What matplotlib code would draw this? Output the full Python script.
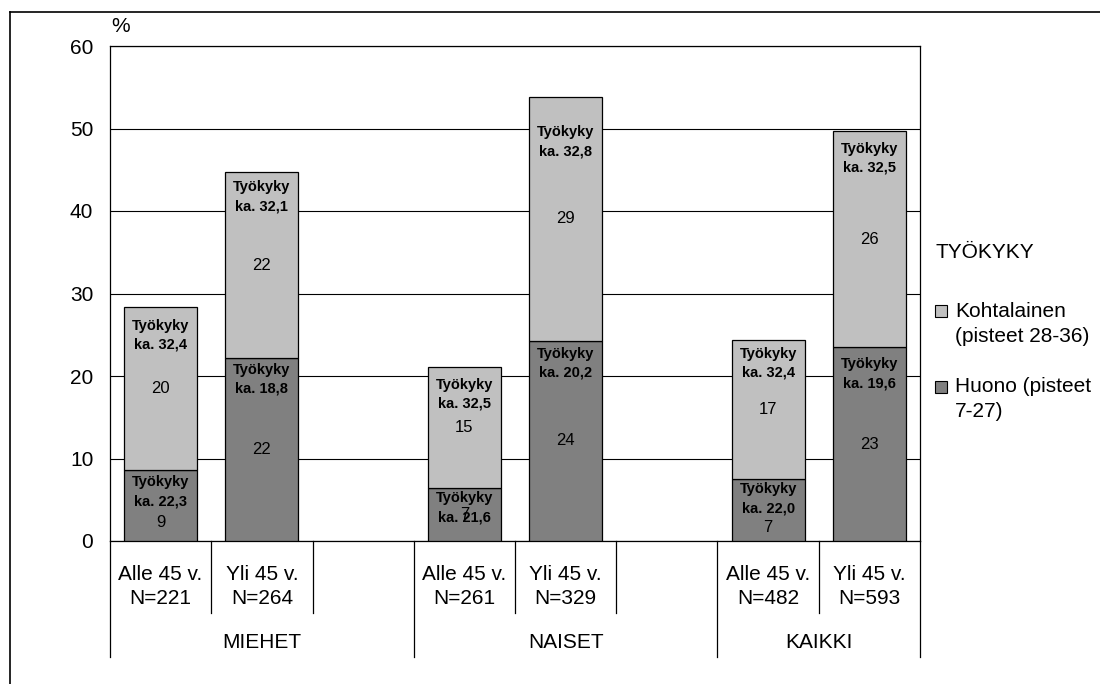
import matplotlib
matplotlib.use("Agg")
import matplotlib.pyplot as plt
from matplotlib.lines import Line2D
from matplotlib.patches import Rectangle
import matplotlib.transforms as mtransforms

plt.rcParams['font.family'] = ['Liberation Sans', 'DejaVu Sans']

# data
slots = [0, 1, 3, 4, 6, 7]
cat_labels = ['Alle 45 v.\nN=221', 'Yli 45 v.\nN=264',
              'Alle 45 v.\nN=261', 'Yli 45 v.\nN=329',
              'Alle 45 v.\nN=482', 'Yli 45 v.\nN=593']
groups = ['MIEHET', 'NAISET', 'KAIKKI']
huono = [8.6, 22.2, 6.4, 24.3, 7.5, 23.5]
kohtalainen = [19.8, 22.5, 14.7, 29.5, 16.9, 26.2]
huono_lbl = ['9', '22', '7', '24', '7', '23']
kohtalainen_lbl = ['20', '22', '15', '29', '17', '26']
huono_ka = ['22,3', '18,8', '21,6', '20,2', '22,0', '19,6']
kohtalainen_ka = ['32,4', '32,1', '32,5', '32,8', '32,4', '32,5']

W, H = 1100, 684
fig = plt.figure(figsize=(11, 6.84), dpi=100)
x0, x1, ytop, ybot = 110, 920, 46, 541
ax = fig.add_axes([x0 / W, 1 - ybot / H, (x1 - x0) / W, (ybot - ytop) / H])

light = '#c0c0c0'
dark = '#808080'
bw = 0.72
ax.bar(slots, huono, bw, color=dark, edgecolor='black', linewidth=0.9, zorder=3)
ax.bar(slots, kohtalainen, bw, bottom=huono, color=light, edgecolor='black',
       linewidth=0.9, zorder=3)

ax.set_xlim(-0.5, 7.5)
ax.set_ylim(0, 60)
ax.set_yticks(range(0, 61, 10))
ax.tick_params(axis='y', length=0, pad=12, labelsize=15)
ax.set_xticks([])
ax.yaxis.grid(True, color='black', linewidth=0.8)
ax.set_axisbelow(True)
for s in ax.spines.values():
    s.set_color('black')
    s.set_linewidth(0.9)

px = 72 / 100  # pixels -> points

# bold "Työkyky" labels, offset from top of segment (pixels)
off_light = [12, 8, 11, 28, 7, 11]
off_dark = [5, 5, 3, 6, 3, 10]
for i, x in enumerate(slots):
    top_d = huono[i]
    top_l = huono[i] + kohtalainen[i]
    ax.annotate('Työkyky\nka. ' + kohtalainen_ka[i], (x, top_l),
                xytext=(0, -off_light[i] * px), textcoords='offset points',
                ha='center', va='top', fontsize=10.5, fontweight='bold',
                linespacing=1.45, zorder=5)
    ax.annotate('Työkyky\nka. ' + huono_ka[i], (x, top_d),
                xytext=(0, -off_dark[i] * px), textcoords='offset points',
                ha='center', va='top', fontsize=10.5, fontweight='bold',
                linespacing=1.45, zorder=5)

# value numbers at segment centres, two small ones pushed down
nudge_dark = {0: 17, 4: 17}
for i, x in enumerate(slots):
    ax.annotate(huono_lbl[i], (x, huono[i] / 2),
                xytext=(0, -nudge_dark.get(i, 0) * px), textcoords='offset points',
                ha='center', va='center', fontsize=12, zorder=5)
    ax.annotate(kohtalainen_lbl[i], (x, huono[i] + kohtalainen[i] / 2),
                ha='center', va='center', fontsize=12, zorder=5)

# category axis below the plot
trans = mtransforms.blended_transform_factory(ax.transData, ax.transAxes)
hpx = ybot - ytop


def ya(ypix):
    return (ybot - ypix) / hpx


for i, x in enumerate(slots):
    ax.text(x, ya(586.5), cat_labels[i], transform=trans, ha='center',
            va='center', fontsize=15, linespacing=1.4, clip_on=False)

for xs in [0.5, 1.5, 3.5, 4.5, 6.5]:
    ax.add_line(Line2D([xs, xs], [0, ya(613)], transform=trans, color='black',
                       linewidth=0.9, clip_on=False))
for xs in [-0.5, 2.5, 5.5, 7.5]:
    ax.add_line(Line2D([xs, xs], [0, ya(657)], transform=trans, color='black',
                       linewidth=0.9, clip_on=False))

for g, xc in zip(groups, [1, 4, 6.5]):
    ax.text(xc, ya(643), g, transform=trans, ha='center', va='center',
            fontsize=15, clip_on=False)

fig.text(111 / W, 1 - 27 / H, '%', ha='left', va='center', fontsize=15)

# legend
fig.text(935 / W, 1 - 252 / H, 'TYÖKYKY', ha='left', va='center', fontsize=15)
leg_items = [('Kohtalainen\n(pisteet 28-36)', light, 311, 324),
             ('Huono (pisteet\n7-27)', dark, 387, 399.5)]
for txt, col, ybox, ytxt in leg_items:
    fig.add_artist(Rectangle((935 / W, 1 - (ybox + 6) / H), 12 / W, 12 / H,
                             transform=fig.transFigure, facecolor=col,
                             edgecolor='black', linewidth=0.8))
    fig.text(955 / W, 1 - ytxt / H, txt, ha='left', va='center', fontsize=15,
             linespacing=1.4)

# outer frame (top and left visible)
fig.add_artist(Line2D([10 / W, 1], [1 - 12 / H, 1 - 12 / H],
                      transform=fig.transFigure, color='black', linewidth=1.2))
fig.add_artist(Line2D([10 / W, 10 / W], [0, 1 - 12 / H],
                      transform=fig.transFigure, color='black', linewidth=1.2))

fig.savefig('out.png', dpi=100)
